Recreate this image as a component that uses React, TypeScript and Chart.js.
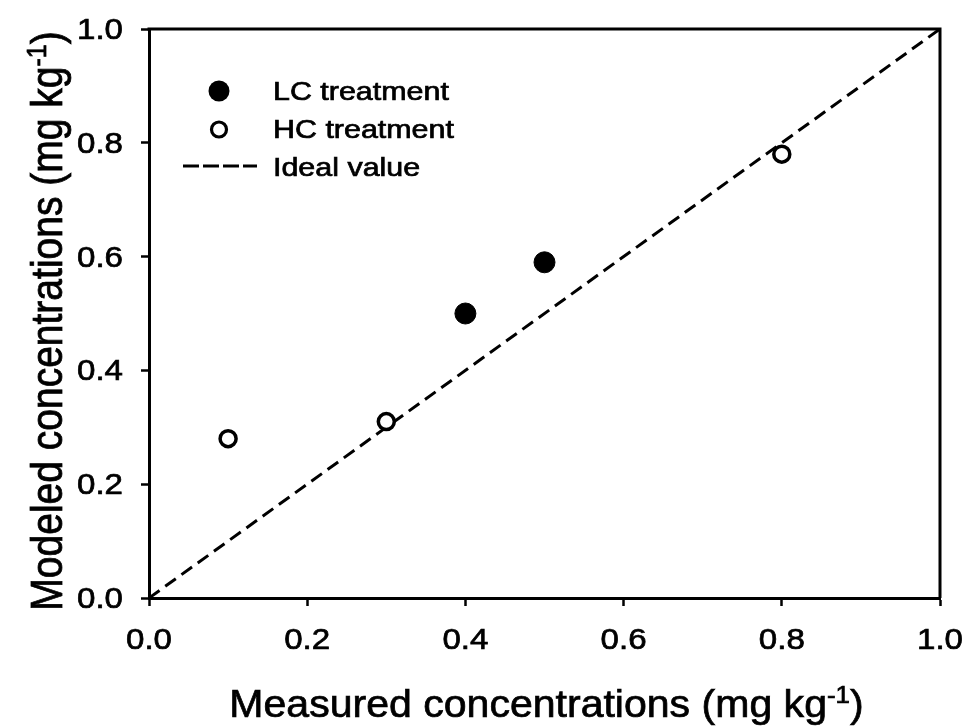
import React, { useEffect, useRef } from "react";
import { Chart, registerables } from "chart.js";

Chart.register(...registerables);

// ---- data ----
const lcMeasured = [0.4, 0.5];
const lcModeled = [0.5, 0.59];
const hcMeasured = [0.1, 0.3, 0.8];
const hcModeled = [0.28, 0.31, 0.78];
const idealX = [0, 1];
const idealY = [0, 1];
const xTickLabels = ["0.0", "0.2", "0.4", "0.6", "0.8", "1.0"];
const yTickLabels = ["0.0", "0.2", "0.4", "0.6", "0.8", "1.0"];
const legendLabels = ["LC treatment", "HC treatment", "Ideal value"];
const xTitleMain = "Measured concentrations (mg kg";
const yTitleMain = "Modeled concentrations (mg kg";
const unitSup = "-1";
const unitClose = ")";

const FONT = '"Liberation Sans", Arial, Helvetica, sans-serif';
const HEAVY = 0.7;

function txt(ctx: CanvasRenderingContext2D, s: string, x: number, y: number) {
  ctx.fillText(s, x, y);
  ctx.lineWidth = HEAVY;
  ctx.strokeText(s, x, y);
}

function drawTitle(ctx: CanvasRenderingContext2D, main: string, size: number, supSize: number, supRaise: number) {
  ctx.font = `${size}px ${FONT}`;
  const w1 = ctx.measureText(main).width;
  const w3 = ctx.measureText(unitClose).width;
  ctx.font = `${supSize}px ${FONT}`;
  const w2 = ctx.measureText(unitSup).width;
  const total = w1 + w2 + w3;
  const x0 = -total / 2;
  ctx.textAlign = "left";
  ctx.textBaseline = "alphabetic";
  ctx.font = `${size}px ${FONT}`;
  txt(ctx, main, x0, 0);
  ctx.font = `${supSize}px ${FONT}`;
  txt(ctx, unitSup, x0 + w1, -supRaise);
  ctx.font = `${size}px ${FONT}`;
  txt(ctx, unitClose, x0 + w1 + w2, 0);
}

const decorPlugin = {
  id: "decor",
  afterDraw(chart: any) {
    const { ctx, chartArea } = chart;
    const xs = chart.scales.x;
    const ys = chart.scales.y;
    ctx.save();
    ctx.fillStyle = "#000";
    ctx.strokeStyle = "#000";

    // top and right frame
    ctx.lineWidth = 3;
    ctx.setLineDash([]);
    ctx.beginPath();
    ctx.moveTo(chartArea.left - 1.5, chartArea.top);
    ctx.lineTo(chartArea.right, chartArea.top);
    ctx.lineTo(chartArea.right, chartArea.bottom);
    ctx.stroke();

    // tick labels
    const tickSize = 29;
    const tickStretch = 1.14;
    ctx.font = `${tickSize}px ${FONT}`;
    ctx.textBaseline = "alphabetic";
    xTickLabels.forEach((l) => {
      const px = xs.getPixelForValue(parseFloat(l));
      ctx.save();
      ctx.translate(px, chartArea.bottom + 51);
      ctx.scale(tickStretch, 1);
      ctx.textAlign = "center";
      txt(ctx, l, 0, 0);
      ctx.restore();
    });
    yTickLabels.forEach((l) => {
      const py = ys.getPixelForValue(parseFloat(l));
      ctx.save();
      ctx.translate(chartArea.left - 26, py + 10);
      ctx.scale(tickStretch, 1);
      ctx.textAlign = "right";
      txt(ctx, l, 0, 0);
      ctx.restore();
    });

    // axis titles
    ctx.save();
    ctx.translate((chartArea.left + chartArea.right) / 2 + 2, 717);
    ctx.scale(1.08, 1);
    drawTitle(ctx, xTitleMain, 38, 24, 14);
    ctx.restore();

    ctx.save();
    ctx.translate(62, 321);
    ctx.rotate(-Math.PI / 2);
    ctx.scale(1, 1.12);
    drawTitle(ctx, yTitleMain, 39, 25, 14);
    ctx.restore();

    // legend
    ctx.beginPath();
    ctx.arc(219, 91, 10.5, 0, Math.PI * 2);
    ctx.fill();
    ctx.beginPath();
    ctx.fillStyle = "#fff";
    ctx.arc(219, 129.5, 7.5, 0, Math.PI * 2);
    ctx.fill();
    ctx.lineWidth = 3.2;
    ctx.stroke();
    ctx.fillStyle = "#000";
    ctx.beginPath();
    ctx.setLineDash([16, 4]);
    ctx.lineWidth = 3;
    ctx.moveTo(183, 166);
    ctx.lineTo(257, 166);
    ctx.stroke();
    ctx.setLineDash([]);
    const baselines = [100, 138, 175.5];
    ctx.font = `26px ${FONT}`;
    legendLabels.forEach((t, i) => {
      ctx.save();
      ctx.translate(273, baselines[i]);
      ctx.scale(1.17, 1);
      ctx.textAlign = "left";
      txt(ctx, t, 0, 0);
      ctx.restore();
    });

    ctx.restore();
  },
};

export default function App() {
  const ref = useRef<HTMLCanvasElement | null>(null);

  useEffect(() => {
    document.body.style.margin = "0";
    const canvas = ref.current;
    if (!canvas) return;

    const axis = (afterFit: (s: any) => void) => ({
      type: "linear" as const,
      min: 0,
      max: 1,
      ticks: { display: false, stepSize: 0.2 },
      grid: {
        display: true,
        drawOnChartArea: false,
        drawTicks: true,
        tickLength: 8,
        tickWidth: 2.5,
        tickColor: "#000",
        color: "#000",
      },
      border: { display: true, color: "#000", width: 3 },
      title: { display: false },
      afterFit,
    });

    const chart = new Chart(canvas, {
      type: "scatter",
      data: {
        datasets: [
          {
            label: legendLabels[2],
            type: "line",
            data: idealX.map((x, i) => ({ x, y: idealY[i] })),
            borderColor: "#000",
            borderWidth: 3,
            borderDash: [13, 7],
            pointRadius: 0,
            fill: false,
            order: 3,
          },
          {
            label: legendLabels[1],
            data: hcMeasured.map((x, i) => ({ x, y: hcModeled[i] })),
            backgroundColor: "#fff",
            borderColor: "#000",
            borderWidth: 3.5,
            pointRadius: 8,
            order: 2,
          },
          {
            label: legendLabels[0],
            data: lcMeasured.map((x, i) => ({ x, y: lcModeled[i] })),
            backgroundColor: "#000",
            borderColor: "#000",
            borderWidth: 1,
            pointRadius: 10.5,
            order: 1,
          },
        ],
      } as any,
      options: {
        responsive: false,
        animation: false,
        devicePixelRatio: 1,
        layout: { padding: { left: 0, top: 29, right: 37, bottom: 0 } },
        plugins: {
          legend: { display: false },
          tooltip: { enabled: false },
          title: { display: false },
        },
        scales: {
          x: axis((s: any) => {
            s.height = 129;
          }),
          y: axis((s: any) => {
            s.width = 149;
          }),
        },
      } as any,
      plugins: [decorPlugin],
    });

    return () => chart.destroy();
  }, []);

  return (
    <div style={{ width: 977, height: 727, background: "#fff" }}>
      <canvas ref={ref} width={977} height={727} style={{ display: "block" }} />
    </div>
  );
}
